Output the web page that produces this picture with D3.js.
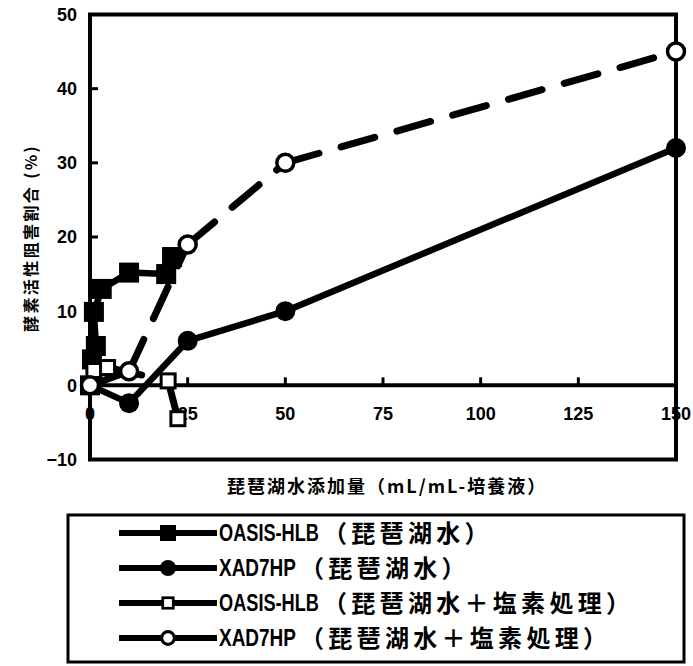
<!DOCTYPE html>
<html>
<head>
<meta charset="utf-8">
<script src="https://cdn.jsdelivr.net/npm/d3@7"></script>
<style>
  html, body { margin: 0; padding: 0; background: #fff; }
  svg { display: block; }
</style>
</head>
<body>
<svg id="chart" width="693" height="666"></svg>
<script>
// ---- data ----
const seriesNames = ["OASIS-HLB", "XAD7HP", "OASIS-HLB", "XAD7HP"];
const seriesNotes = ["（琵琶湖水）", "（琵琶湖水）", "（琵琶湖水＋塩素処理）", "（琵琶湖水＋塩素処理）"];

// OASIS-HLB, lake water
const oasisLakeX = [0, 0.5, 1.5, 1, 3, 10, 19.5, 21];
const oasisLakeY = [0, 3.5, 5.3, 9.9, 13, 15.2, 15, 17.3];
// XAD7HP, lake water
const xadLakeX = [0, 10, 25, 50, 150];
const xadLakeY = [0, -2.4, 6, 10, 32];
// OASIS-HLB, lake water + chlorination
const oasisClX = [0, 1, 4.5, 20, 22.5];
const oasisClY = [0, 2, 2.4, 0.6, -4.5];
// XAD7HP, lake water + chlorination
const xadClX = [0, 10, 25, 50, 150];
const xadClY = [0, 1.9, 19, 30, 45];

const xTicks = [0, 25, 50, 75, 100, 125, 150];
const xTickLabels = ["0", "25", "50", "75", "100", "125", "150"];
const yTicks = [-10, 0, 10, 20, 30, 40, 50];
const yTickLabels = ["−10", "0", "10", "20", "30", "40", "50"];

const xTitle = "琵琶湖水添加量（mL/mL-培養液）";
const yTitle = "酵素活性阻害割合 (%)";

// ---- layout ----
const svg = d3.select("#chart");
svg.append("rect").attr("width", 693).attr("height", 666).attr("fill", "#fff");

const x = d3.scaleLinear().domain([0, 150]).range([90, 676]);
const y = d3.scaleLinear().domain([-10, 50]).range([459.5, 14.5]);

const numFont = "'Liberation Sans', Arial, sans-serif";
const cjkFont = "'Noto Sans CJK JP', 'Noto Sans CJK SC', sans-serif";

const series = [
  { name: seriesNames[0], note: seriesNotes[0], xs: oasisLakeX, ys: oasisLakeY, shape: "square", filled: true,  dashed: false },
  { name: seriesNames[1], note: seriesNotes[1], xs: xadLakeX,   ys: xadLakeY,   shape: "circle", filled: true,  dashed: false },
  { name: seriesNames[2], note: seriesNotes[2], xs: oasisClX,   ys: oasisClY,   shape: "square", filled: false, dashed: true },
  { name: seriesNames[3], note: seriesNotes[3], xs: xadClX,     ys: xadClY,     shape: "circle", filled: false, dashed: true }
];

// ---- plot frame, zero line and ticks ----
const frame = svg.append("g");
frame.append("rect")
  .attr("x", x(0)).attr("y", y(50))
  .attr("width", x(150) - x(0)).attr("height", y(-10) - y(50))
  .attr("fill", "none").attr("stroke", "#000").attr("stroke-width", 4);

frame.append("line")
  .attr("x1", x(0)).attr("x2", x(150))
  .attr("y1", y(0)).attr("y2", y(0))
  .attr("stroke", "#000").attr("stroke-width", 4);

frame.selectAll(".xt").data(xTicks.filter(v => v > 0 && v < 150)).enter()
  .append("line")
  .attr("x1", d => x(d)).attr("x2", d => x(d))
  .attr("y1", y(0)).attr("y2", y(0) - 8)
  .attr("stroke", "#000").attr("stroke-width", 3);

frame.selectAll(".yt").data(yTicks.filter(v => v > -10 && v < 50 && v !== 0)).enter()
  .append("line")
  .attr("x1", x(0)).attr("x2", x(0) + 8)
  .attr("y1", d => y(d)).attr("y2", d => y(d))
  .attr("stroke", "#000").attr("stroke-width", 3);

// ---- tick labels ----
svg.append("g").selectAll("text").data(yTicks).enter()
  .append("text")
  .attr("x", 77)
  .attr("y", d => y(d))
  .attr("dy", "0.36em")
  .attr("text-anchor", "end")
  .attr("font-family", numFont)
  .attr("font-weight", "bold")
  .attr("font-size", 18)
  .text((d, i) => yTickLabels[i]);

svg.append("g").selectAll("text").data(xTicks).enter()
  .append("text")
  .attr("x", d => x(d))
  .attr("y", y(0) + 28)
  .attr("dy", "0.36em")
  .attr("text-anchor", "middle")
  .attr("font-family", numFont)
  .attr("font-weight", "bold")
  .attr("font-size", 18)
  .text((d, i) => xTickLabels[i]);

// ---- axis titles ----
svg.append("text")
  .attr("x", 227)
  .attr("y", 487)
  .attr("dy", "0.36em")
  .attr("font-family", cjkFont)
  .attr("font-weight", "bold")
  .attr("font-size", 18)
  .attr("letter-spacing", 2)
  .text(xTitle);

svg.append("text")
  .attr("transform", "translate(31,238) rotate(-90)")
  .attr("text-anchor", "middle")
  .attr("dy", "0.36em")
  .attr("font-family", cjkFont)
  .attr("font-weight", "bold")
  .attr("font-size", 16)
  .attr("letter-spacing", 2.4)
  .text(yTitle);

// ---- series lines (each segment restarts its dash pattern) ----
const line = d3.line().x(d => x(d[0])).y(d => y(d[1]));
const linesG = svg.append("g");
series.forEach(s => {
  const pts = s.xs.map((v, i) => [v, s.ys[i]]);
  if (s.dashed) {
    d3.pairs(pts).forEach(pair => {
      linesG.append("path")
        .attr("d", line(pair))
        .attr("fill", "none")
        .attr("stroke", "#000")
        .attr("stroke-width", 7)
        .attr("stroke-linecap", "round")
        .attr("stroke-dasharray", "35 23");
    });
  } else {
    linesG.append("path")
      .attr("d", line(pts))
      .attr("fill", "none")
      .attr("stroke", "#000")
      .attr("stroke-width", 6.5)
      .attr("stroke-linejoin", "round");
  }
});

// ---- markers ----
function drawMarker(g, s, cx, cy, scale) {
  if (s.shape === "square") {
    const side = (s.filled ? 20 : 14) * scale;
    g.append("rect")
      .attr("x", cx - side / 2).attr("y", cy - side / 2)
      .attr("width", side).attr("height", side)
      .attr("fill", s.filled ? "#000" : "#fff")
      .attr("stroke", "#000")
      .attr("stroke-width", s.filled ? 0 : 3 * Math.min(1, scale + 0.15));
  } else {
    const r = (s.filled ? 10 : 8.5) * scale;
    g.append("circle")
      .attr("cx", cx).attr("cy", cy).attr("r", r)
      .attr("fill", s.filled ? "#000" : "#fff")
      .attr("stroke", "#000")
      .attr("stroke-width", s.filled ? 0 : 3.5 * Math.min(1, scale + 0.15));
  }
}

const markG = svg.append("g");
series.forEach(s => {
  s.xs.forEach((v, i) => drawMarker(markG, s, x(v), y(s.ys[i]), 1));
});

// ---- legend ----
const legend = svg.append("g");
legend.append("rect")
  .attr("x", 68).attr("y", 515)
  .attr("width", 616).attr("height", 147)
  .attr("fill", "#fff").attr("stroke", "#000").attr("stroke-width", 3);

const rowY = d3.scaleLinear().domain([0, 3]).range([533, 638]);
const latinWidth = { "OASIS-HLB": 100, "XAD7HP": 77 };

series.forEach((s, i) => {
  const cy = rowY(i);
  legend.append("line")
    .attr("x1", 119).attr("x2", 217)
    .attr("y1", cy).attr("y2", cy)
    .attr("stroke", "#000").attr("stroke-width", 6);
  drawMarker(legend, s, 168, cy, s.filled ? 0.8 : 0.75);

  // Latin name, squeezed horizontally to a narrow half-width look
  const lw = latinWidth[s.name];
  const latin = legend.append("text")
    .attr("dy", "0.36em")
    .attr("font-family", numFont)
    .attr("font-weight", "bold")
    .attr("font-size", 23)
    .text(s.name);
  const natural = latin.node().getComputedTextLength() || lw;
  latin.attr("transform", `translate(219,${cy}) scale(${lw / natural},1)`);

  legend.append("text")
    .attr("x", 219 + lw + 4).attr("y", cy)
    .attr("dy", "0.38em")
    .attr("font-family", cjkFont)
    .attr("font-weight", "bold")
    .attr("font-size", 24)
    .attr("letter-spacing", 4.3)
    .text(s.note);
});
</script>
</body>
</html>
